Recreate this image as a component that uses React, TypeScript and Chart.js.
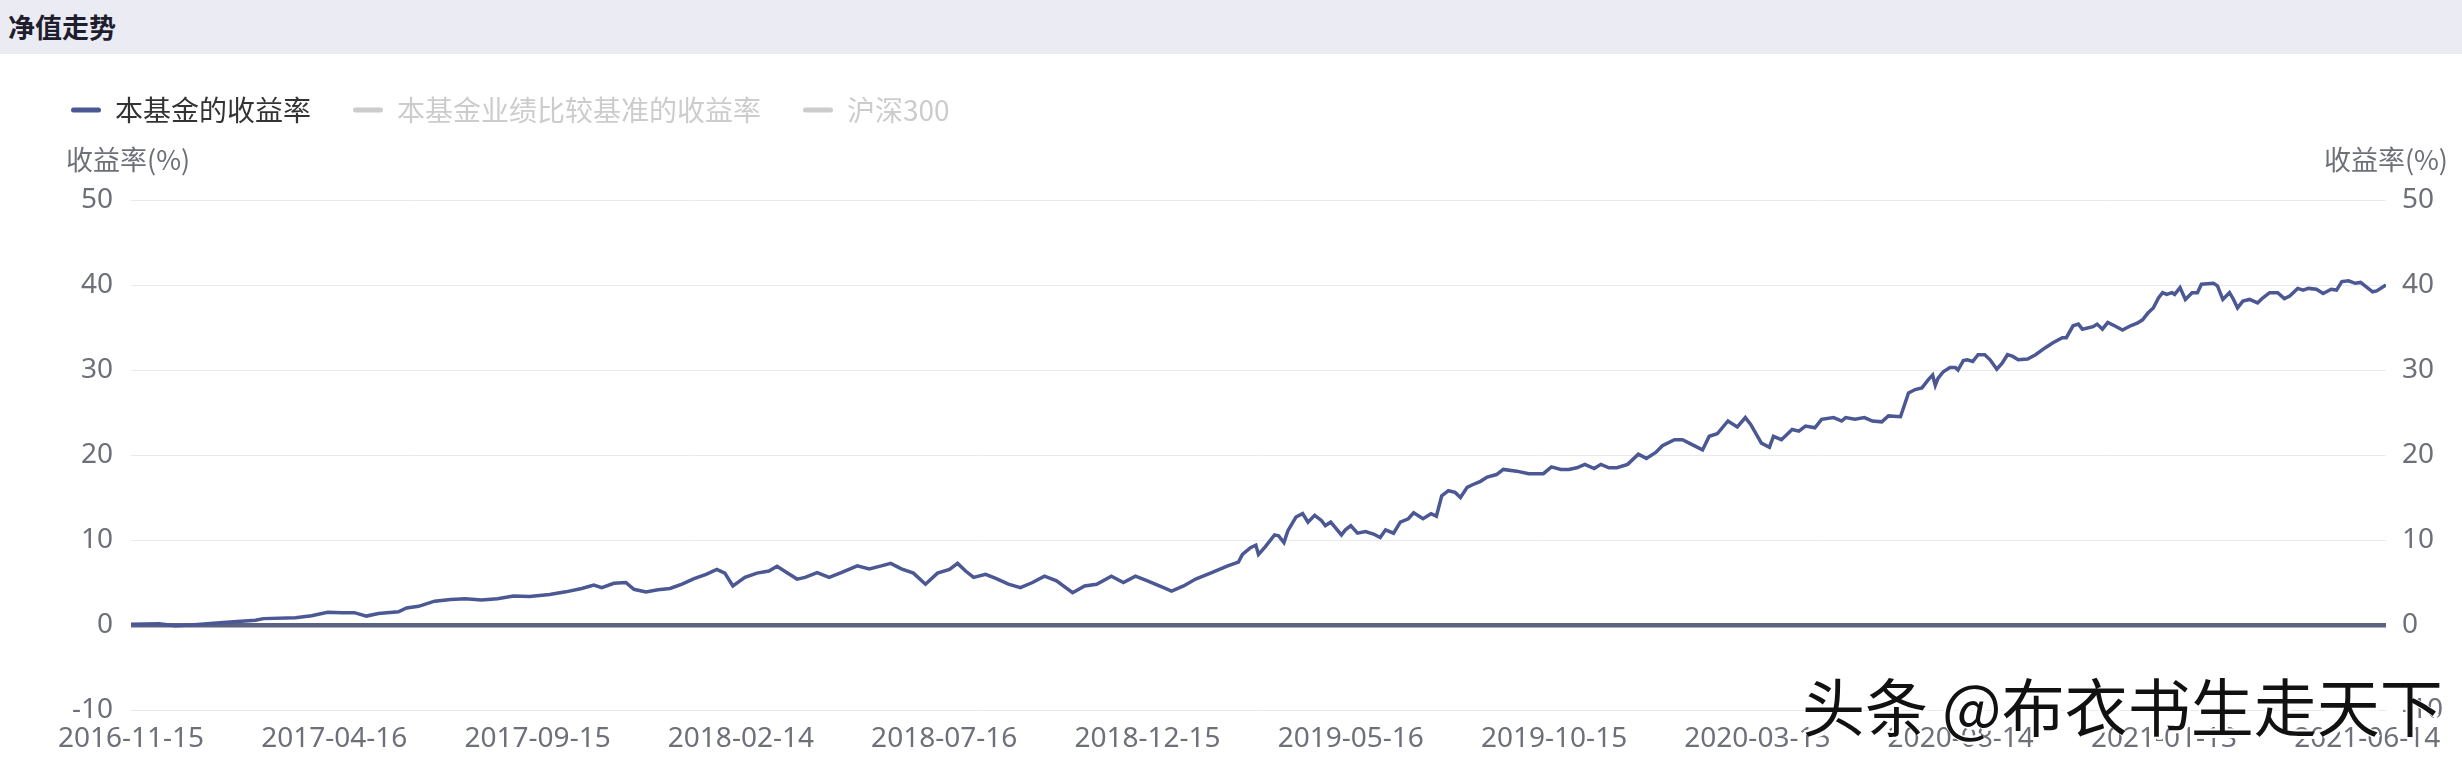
import React, { useEffect, useRef } from 'react';
import { Chart, registerables } from 'chart.js';

Chart.register(...registerables);

// ---------- data ----------
const START_DATE = '2016-11-15';
const END_DAY = 1686; // last category (days after START_DATE)

const xTickLabels = [
  '2016-11-15', '2017-04-16', '2017-09-15', '2018-02-14', '2018-07-16', '2018-12-15',
  '2019-05-16', '2019-10-15', '2020-03-15', '2020-08-14', '2021-01-13', '2021-06-14',
];
const yTicks = [-10, 0, 10, 20, 30, 40, 50];

const seriesNames = ['本基金的收益率', '本基金业绩比较基准的收益率', '沪深300'];
const legendActive = [true, false, false];

// days after START_DATE
const dayOffsets = [
  0, 21, 33, 45, 69, 93, 99, 123, 135, 147, 158, 167, 176, 185, 200, 206, 215, 227, 239, 250,
  262, 274, 286, 298, 313, 325, 337, 346, 352, 361, 370, 376, 385, 394, 403, 412, 421, 430, 438, 444,
  450, 459, 468, 477, 483, 492, 498, 504, 513, 522, 531, 543, 552, 561, 568, 576, 585, 594, 603, 612,
  618, 624, 630, 639, 647, 656, 665, 674, 683, 692, 704, 713, 722, 733, 742, 751, 760, 772, 778, 787,
  796, 808, 820, 828, 831, 837, 841, 843, 848, 855, 858, 862, 865, 871, 876, 880, 885, 890, 893, 897,
  905, 908, 912, 917, 923, 929, 934, 938, 944, 949, 955, 959, 966, 972, 976, 980, 985, 990, 994, 999,
  1003, 1009, 1014, 1021, 1026, 1036, 1045, 1056, 1062, 1069, 1075, 1081, 1087, 1094, 1099, 1105, 1111, 1119, 1127, 1133,
  1140, 1145, 1154, 1160, 1165, 1175, 1180, 1186, 1194, 1201, 1207, 1211, 1219, 1225, 1228, 1234, 1242, 1247, 1252, 1259,
  1264, 1273, 1279, 1282, 1289, 1296, 1302, 1309, 1314, 1323, 1329, 1334, 1339, 1344, 1347, 1349, 1351, 1355, 1360, 1364,
  1366, 1370, 1373, 1377, 1381, 1386, 1390, 1395, 1399, 1403, 1407, 1411, 1418, 1424, 1431, 1437, 1444, 1447, 1452, 1456,
  1459, 1467, 1470, 1474, 1478, 1483, 1489, 1495, 1500, 1504, 1508, 1512, 1516, 1519, 1522, 1526, 1528, 1532, 1536, 1541,
  1545, 1548, 1557, 1560, 1564, 1569, 1572, 1575, 1579, 1584, 1590, 1594, 1599, 1605, 1610, 1614, 1620, 1624, 1628, 1634,
  1639, 1645, 1649, 1653, 1658, 1663, 1667, 1672, 1676, 1679, 1686,
];

// 本基金的收益率 (%)
const fundReturn = [
  0.1, 0.15, -0.1, 0.0, 0.3, 0.55, 0.75, 0.85, 1.1, 1.5, 1.45, 1.45, 1.05, 1.35, 1.55, 2.0, 2.2, 2.8, 3.0, 3.1,
  2.95, 3.1, 3.4, 3.35, 3.6, 3.9, 4.3, 4.7, 4.4, 4.9, 5.0, 4.2, 3.9, 4.15, 4.3, 4.8, 5.45, 5.95, 6.55, 6.1,
  4.6, 5.6, 6.1, 6.35, 6.9, 6.0, 5.4, 5.6, 6.15, 5.6, 6.15, 6.95, 6.6, 6.95, 7.25, 6.6, 6.1, 4.8, 6.1, 6.55,
  7.25, 6.35, 5.6, 5.95, 5.45, 4.8, 4.4, 5.0, 5.75, 5.2, 3.8, 4.6, 4.8, 5.75, 5.0, 5.75, 5.2, 4.4, 4.0, 4.6,
  5.4, 6.15, 6.95, 7.4, 8.3, 9.1, 9.4, 8.3, 9.2, 10.6, 10.5, 9.7, 11.1, 12.7, 13.1, 12.1, 12.9, 12.3, 11.7, 12.1,
  10.6, 11.2, 11.7, 10.8, 11.0, 10.7, 10.3, 11.2, 10.8, 12.1, 12.5, 13.2, 12.5, 13.1, 12.8, 15.2, 15.8, 15.6, 15.0, 16.2,
  16.5, 16.9, 17.4, 17.7, 18.3, 18.1, 17.8, 17.8, 18.6, 18.3, 18.3, 18.5, 18.9, 18.4, 18.9, 18.5, 18.5, 18.9, 20.1, 19.6,
  20.3, 21.1, 21.8, 21.8, 21.4, 20.6, 22.2, 22.5, 24.0, 23.3, 24.4, 23.6, 21.4, 20.9, 22.2, 21.8, 23.0, 22.8, 23.4, 23.2,
  24.2, 24.4, 24.0, 24.4, 24.2, 24.4, 24.0, 23.9, 24.6, 24.5, 27.3, 27.7, 27.9, 28.9, 29.4, 28.2, 29.0, 29.8, 30.3, 30.3,
  30.0, 31.1, 31.2, 31.0, 31.8, 31.8, 31.2, 30.1, 30.8, 31.8, 31.6, 31.2, 31.3, 31.8, 32.6, 33.2, 33.8, 33.8, 35.2, 35.4,
  34.8, 35.1, 35.4, 34.8, 35.6, 35.2, 34.7, 35.2, 35.5, 35.9, 36.7, 37.3, 38.5, 39.1, 38.9, 39.1, 38.9, 39.7, 38.3, 39.1,
  39.1, 40.1, 40.2, 39.9, 38.3, 39.1, 38.3, 37.3, 38.1, 38.3, 37.9, 38.5, 39.1, 39.1, 38.4, 38.7, 39.6, 39.4, 39.6, 39.5,
  39.0, 39.5, 39.4, 40.4, 40.5, 40.2, 40.3, 39.7, 39.2, 39.3, 40.0,
];

// hidden (legend-deselected) series: not drawn in the picture
const benchmarkReturn: number[] = [];
const hs300Return: number[] = [];

const AXIS_TITLE = '收益率(%)';
const PAGE_TITLE = '净值走势';
const WATERMARK = '头条 @布衣书生走天下';

// ---------- styles ----------
const W = 2462;
const H = 765;
const HEADER_H = 54;
const FONT = '"Noto Sans", "Noto Sans CJK SC", sans-serif';
const FONT_CJK = '"Noto Sans CJK SC", "Noto Sans", sans-serif';
const FUND_COLOR = '#4b5894';
const ZERO_COLOR = '#5a6381';
const INACTIVE = '#cccccc';
const TICK_COLOR = '#6e7079';

const dayOf = (s: string) =>
  Math.round((Date.parse(s) - Date.parse(START_DATE)) / 86400000);

export default function App() {
  const canvasRef = useRef<HTMLCanvasElement | null>(null);

  useEffect(() => {
    const canvas = canvasRef.current;
    if (!canvas) return;
    const tickDays = xTickLabels.map(dayOf);

    const legendSpacer = {
      id: 'legendSpacer',
      afterInit(chart: any) {
        const lg = chart.legend;
        if (!lg || lg.__patched) return;
        const orig = lg.fit;
        lg.fit = function () {
          orig.call(this);
          this.height += 66;
        };
        lg.__patched = true;
      },
    };

    const axisTitles = {
      id: 'axisTitles',
      afterDraw(chart: any) {
        const { ctx, chartArea } = chart;
        const y = chart.scales.y.getPixelForValue(50) - 40;
        ctx.save();
        ctx.font = `27px ${FONT_CJK}`;
        ctx.fillStyle = TICK_COLOR;
        ctx.textBaseline = 'middle';
        ctx.textAlign = 'left';
        ctx.fillText(AXIS_TITLE, chartArea.left - 65, y);
        ctx.textAlign = 'right';
        ctx.fillText(AXIS_TITLE, chartArea.right + 62, y);
        ctx.restore();
      },
    };

    const seriesData = [fundReturn, benchmarkReturn, hs300Return];
    const colors = [FUND_COLOR, INACTIVE, INACTIVE];

    const chart = new Chart(canvas, {
      type: 'line',
      data: {
        datasets: seriesNames.map((name, i) => ({
          label: name,
          data: seriesData[i].map((v, k) => ({ x: dayOffsets[k], y: v })),
          borderColor: colors[i],
          backgroundColor: colors[i],
          borderWidth: 3.5,
          pointRadius: 0,
          tension: 0,
          fill: false,
          yAxisID: 'y',
        })),
      },
      options: {
        animation: false,
        responsive: false,
        devicePixelRatio: 1,
        layout: { padding: { left: 29, right: 0, top: 0, bottom: 10 } },
        plugins: {
          tooltip: { enabled: false },
          legend: {
            position: 'top',
            align: 'start',
            onClick: () => {},
            labels: {
              boxWidth: 30,
              boxHeight: 5,
              padding: 42,
              useBorderRadius: true,
              borderRadius: 2.5,
              font: { size: 28, family: FONT_CJK },
              generateLabels: (ch: any) =>
                ch.data.datasets.map((ds: any, i: number) => ({
                  text: ds.label,
                  fillStyle: legendActive[i] ? FUND_COLOR : INACTIVE,
                  strokeStyle: legendActive[i] ? FUND_COLOR : INACTIVE,
                  lineWidth: 0,
                  fontColor: legendActive[i] ? '#333333' : INACTIVE,
                  hidden: false,
                  borderRadius: 2.5,
                  datasetIndex: i,
                })),
            },
          },
        },
        scales: {
          x: {
            type: 'linear',
            min: 0,
            max: END_DAY,
            grid: { display: false, drawTicks: false },
            border: { display: false },
            afterBuildTicks: (s: any) => {
              s.ticks = tickDays.map((v) => ({ value: v }));
            },
            afterFit: (s: any) => {
              s.height = 45;
            },
            ticks: {
              autoSkip: false,
              maxRotation: 0,
              padding: 12,
              color: TICK_COLOR,
              font: { size: 28, family: FONT },
              callback: (v: any) => {
                const idx = tickDays.indexOf(Number(v));
                return idx >= 0 ? xTickLabels[idx] : '';
              },
            },
          },
          y: {
            position: 'left',
            min: -10,
            max: 50,
            afterBuildTicks: (s: any) => {
              s.ticks = yTicks.map((v) => ({ value: v }));
            },
            afterFit: (s: any) => {
              s.width = 102;
            },
            grid: {
              drawTicks: false,
              color: (c: any) => (c.tick && c.tick.value === 0 ? ZERO_COLOR : '#e9e9f0'),
              lineWidth: (c: any) => (c.tick && c.tick.value === 0 ? 4.5 : 1),
            },
            border: { display: false },
            ticks: {
              padding: 18,
              color: TICK_COLOR,
              font: { size: 28, family: FONT },
            },
          },
          y2: {
            position: 'right',
            min: -10,
            max: 50,
            afterBuildTicks: (s: any) => {
              s.ticks = yTicks.map((v) => ({ value: v }));
            },
            afterFit: (s: any) => {
              s.width = 76;
            },
            grid: { display: false, drawTicks: false },
            border: { display: false },
            ticks: {
              padding: 16,
              color: TICK_COLOR,
              font: { size: 28, family: FONT },
            },
          },
        },
      },
      plugins: [legendSpacer, axisTitles],
    } as any);

    return () => chart.destroy();
  }, []);

  return (
    <div
      style={{
        position: 'absolute',
        left: 0,
        top: 0,
        width: W,
        height: H,
        background: '#ffffff',
        overflow: 'hidden',
      }}
    >
      <div
        style={{
          position: 'absolute',
          left: 0,
          top: 0,
          width: W,
          height: HEADER_H,
          background: '#ebebf4',
          fontFamily: FONT_CJK,
          fontWeight: 700,
          fontSize: 27,
          lineHeight: `${HEADER_H}px`,
          color: '#1e1e2e',
          paddingLeft: 8,
          boxSizing: 'border-box',
        }}
      >
        {PAGE_TITLE}
      </div>
      <canvas
        ref={canvasRef}
        width={W}
        height={H - HEADER_H}
        style={{ position: 'absolute', left: 0, top: HEADER_H, width: W, height: H - HEADER_H }}
      />
      <div
        style={{
          position: 'absolute',
          left: 1802,
          top: 672,
          fontFamily: FONT_CJK,
          fontSize: 63,
          lineHeight: '63px',
          color: '#111111',
          whiteSpace: 'nowrap',
          textShadow: '3px 3px 0 #ffffff, -2px -2px 0 #ffffff',
        }}
      >
        {WATERMARK}
      </div>
    </div>
  );
}
